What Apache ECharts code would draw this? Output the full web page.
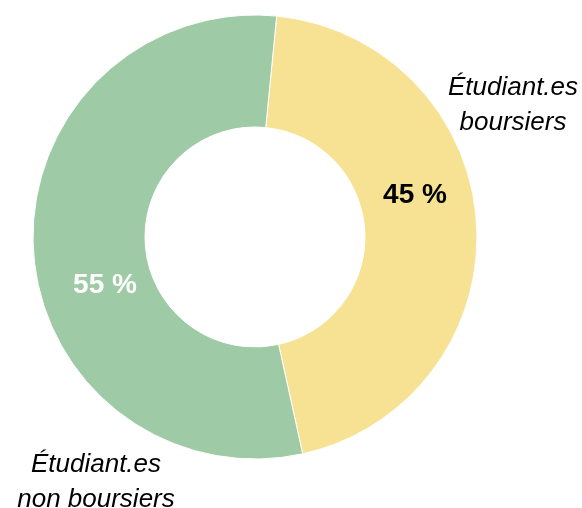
<!DOCTYPE html>
<html>
<head>
<meta charset="utf-8">
<script src="https://cdn.jsdelivr.net/npm/echarts@6/dist/echarts.min.js"></script>
<style>
  html, body { margin: 0; padding: 0; background: #fff; }
  #chart { width: 582px; height: 508px; }
</style>
</head>
<body>
<div id="chart"></div>
<script>
// data
var categories = ["Étudiant.es\nboursiers", "Étudiant.es\nnon boursiers"];
var values = [45, 55];
var colors = ["#F6E292", "#9ECBA5"];
var labelColors = ["#000", "#fff"];

// label positions (px)
var pctPos = [[415, 195], [105, 285]];
var namePos = [[513, 105], [96, 482]];

var chart = echarts.init(document.getElementById("chart"));
chart.setOption({
  animation: false,
  series: [
    {
      type: "pie",
      center: [255, 237],
      radius: [110, 222],
      startAngle: 84.4,
      clockwise: true,
      itemStyle: { borderColor: "#fff", borderWidth: 1 },
      label: {
        show: true,
        position: "inside",
        formatter: "{c} %",
        fontFamily: "Liberation Sans",
        fontWeight: "bold",
        fontSize: 28,
      },
      labelLayout: function (p) {
        return { x: pctPos[p.dataIndex][0], y: pctPos[p.dataIndex][1] };
      },
      emphasis: { disabled: true },
      data: values.map(function (v, i) {
        return {
          name: categories[i],
          value: v,
          itemStyle: { color: colors[i] },
          label: { color: labelColors[i] },
        };
      }),
    },
  ],
  graphic: categories.map(function (c, i) {
    return {
      type: "text",
      x: namePos[i][0],
      y: namePos[i][1],
      style: {
        text: c,
        fill: "#000",
        font: "italic 26px 'Liberation Sans'",
        lineHeight: 35,
        align: "center",
        verticalAlign: "middle",
      },
    };
  }),
});
</script>
</body>
</html>
